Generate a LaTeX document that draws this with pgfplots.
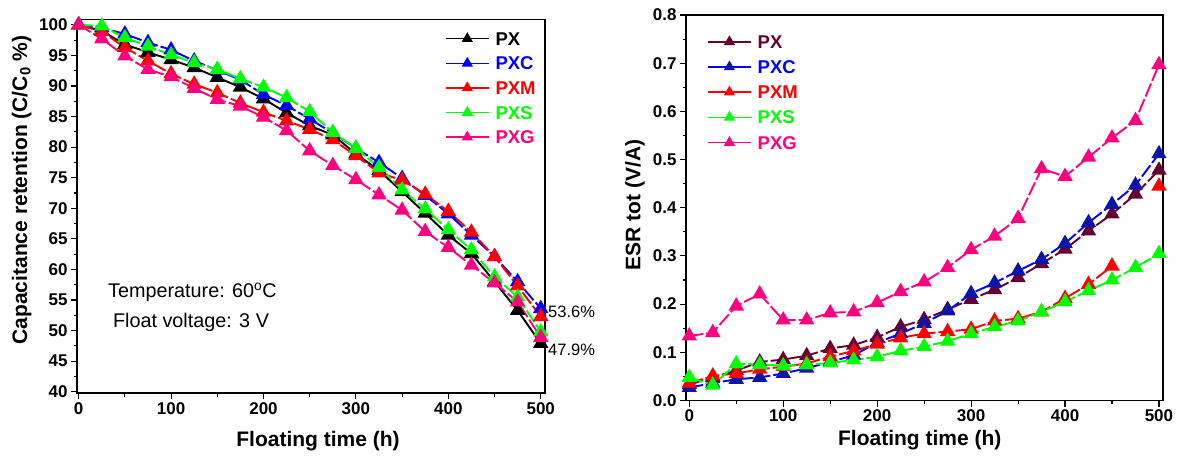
\documentclass[border=0pt]{standalone}
\usepackage{pgfplots}
\pgfplotsset{compat=1.18}
\usepackage{fontspec}
\setmainfont{Liberation Sans}
\definecolor{cPX}{RGB}{0,0,0}
\definecolor{cPXC}{RGB}{0,0,255}
\definecolor{cPXM}{RGB}{255,0,0}
\definecolor{cPXS}{RGB}{0,255,0}
\definecolor{cPXG}{RGB}{255,0,128}
\definecolor{cPXr}{RGB}{102,0,51}
\definecolor{cPXCm}{RGB}{10,20,170}

\pgfplotstableread{
x PX PXC PXM PXS PXG
0 100 100 100 100 100
25 99.0 99.5 98.9 99.8 97.7
50 96.8 98.5 96.3 97.9 94.9
75 95.5 97.1 94.1 96.5 92.7
100 94.3 95.9 92.0 95.1 91.5
125 93.0 94.1 90.3 93.8 89.6
150 91.4 92.6 88.9 92.7 87.8
175 89.8 91.0 87.2 91.2 86.7
200 87.9 88.6 85.7 89.8 84.9
225 85.6 86.8 84.3 88.1 82.7
250 83.5 84.6 82.9 85.8 79.4
275 82.0 82.3 81.2 82.4 77.0
300 78.9 79.8 78.6 79.8 74.7
325 76.2 77.5 75.8 76.7 72.2
350 72.7 74.9 74.6 73.0 69.7
375 69.2 72.1 72.3 69.9 66.2
400 65.6 69.1 69.5 66.5 63.6
425 62.6 65.6 66.1 63.2 60.7
450 58.0 62.1 62.1 58.8 57.8
475 53.3 58.0 57.3 55.5 54.7
500 47.9 53.6 52.3 49.8 48.9
}\capdata

\pgfplotstableread{
x PX PXC PXM PXS PXG
0 0.033 0.027 0.036 0.048 0.134
25 0.048 0.036 0.051 0.032 0.141
50 0.062 0.044 0.056 0.076 0.196
75 0.080 0.048 0.065 0.075 0.221
100 0.085 0.056 0.070 0.072 0.167
125 0.093 0.067 0.077 0.074 0.167
150 0.108 0.080 0.091 0.078 0.182
175 0.115 0.094 0.103 0.084 0.184
200 0.131 0.120 0.117 0.091 0.203
225 0.153 0.139 0.130 0.103 0.226
250 0.168 0.160 0.139 0.112 0.246
275 0.189 0.186 0.143 0.123 0.276
300 0.210 0.222 0.148 0.139 0.313
325 0.230 0.244 0.165 0.153 0.341
350 0.255 0.269 0.170 0.165 0.378
375 0.284 0.293 0.184 0.184 0.481
400 0.314 0.326 0.212 0.205 0.465
425 0.352 0.369 0.241 0.228 0.505
450 0.387 0.407 0.279 0.250 0.545
475 0.428 0.447 nan 0.276 0.581
500 0.478 0.512 0.445 0.305 0.697
}\esrdata

\pgfplotsset{
  myaxis/.style={
    scale only axis,
    axis line style={line width=1.3pt},
    tick style={line width=1.1pt, black},
    tick align=outside,
    xtick pos=bottom, ytick pos=left,
    major tick length=6pt, minor tick length=3.5pt,
    tick label style={font=\fontsize{17}{17}\selectfont\bfseries},
    label style={font=\fontsize{21}{21}\selectfont\bfseries},
    /pgf/number format/assume math mode=true,
    xtick={0,100,...,500},
    minor x tick num=1,
    minor y tick num=1,
    legend cell align=left,
    legend style={draw=none, fill=none, inner sep=0pt, column sep=6pt,
      font=\fontsize{18.5}{18.5}\selectfont\bfseries,
      nodes={inner sep=0pt, text height=13pt, text depth=0pt}},
    legend image code/.code={\draw[mark repeat=2,mark phase=2,#1,solid,line width=1.5pt,mark size=5pt] plot coordinates {(0pt,0pt)(21.5pt,0pt)(43pt,0pt)};},
    unbounded coords=jump,
  },
  ser/.style={color=#1, line width=1.9pt, mark=triangle*, mark size=7pt, mark options={solid, fill=#1}, dash pattern=on 14pt off 3pt},
}

\begin{document}
\begin{tikzpicture}
\path[use as bounding box] (0pt,0pt) rectangle (1179pt,-456pt);

\begin{axis}[myaxis,
  at={(77pt,-393pt)}, anchor=south west,
  width=468pt, height=373.7pt,
  xmin=-1.8, xmax=504.6, ymin=39.8, ymax=100.9,
  ytick={40,45,...,100},
  xlabel={Floating time (h)},
  ylabel={Capacitance retention (C/C\textsubscript{0} \%)},
  xlabel style={at={(axis description cs:0.515,-0.128)}, anchor=center},
  ylabel style={at={(axis description cs:-0.118,0.543)}, anchor=center},
  legend style={at={(axis description cs:0.786,0.966)}, anchor=north west, row sep=11.6pt},
]
\addplot[ser=cPX, solid] table[x=x,y=PX] {\capdata};
\addlegendentry{\textcolor{cPX}{PX}}
\addplot[ser=cPXC] table[x=x,y=PXC] {\capdata};
\addlegendentry{\textcolor{cPXC}{PXC}}
\addplot[ser=cPXM] table[x=x,y=PXM] {\capdata};
\addlegendentry{\textcolor{cPXM}{PXM}}
\addplot[ser=cPXS] table[x=x,y=PXS] {\capdata};
\addlegendentry{\textcolor{cPXS}{PXS}}
\addplot[ser=cPXG] table[x=x,y=PXG] {\capdata};
\addlegendentry{\textcolor{cPXG}{PXG}}
\node[anchor=west, inner sep=0pt, font=\fontsize{19.8}{19.8}\selectfont] at (axis cs:31.7,56.3) {Temperature: 60\textsuperscript{o}C};
\node[anchor=west, inner sep=0pt, font=\fontsize{19.8}{19.8}\selectfont] at (axis cs:37,51.4) {Float voltage: 3 V};
\end{axis}
\node[anchor=west, inner sep=0pt, font=\fontsize{16.5}{16.5}\selectfont] at (548pt,-312pt) {53.6\%};
\node[anchor=west, inner sep=0pt, font=\fontsize{16.5}{16.5}\selectfont] at (548pt,-350pt) {47.9\%};

\begin{axis}[myaxis,
  at={(686pt,-400.5pt)}, anchor=south west,
  width=477pt, height=385.5pt,
  xmin=-3.5, xmax=504.3, ymin=0, ymax=0.8,
  ytick={0,0.1,...,0.8},
  yticklabel style={/pgf/number format/.cd, fixed, fixed zerofill, precision=1},
  xlabel={Floating time (h)},
  ylabel={ESR tot (V/A)},
  xlabel style={at={(axis description cs:0.49,-0.103)}, anchor=center},
  ylabel style={at={(axis description cs:-0.107,0.507)}, anchor=center},
  legend style={at={(axis description cs:0.044,0.948)}, anchor=north west, row sep=12.2pt},
]
\addplot[ser=cPXr] table[x=x,y=PX] {\esrdata};
\addlegendentry{\textcolor{cPXr}{PX}}
\addplot[ser=cPXC, mark options={solid, fill=cPXCm, draw=cPXCm}] table[x=x,y=PXC] {\esrdata};
\addlegendentry{\textcolor{cPXC}{PXC}}
\addplot[ser=cPXM] table[x=x,y=PXM] {\esrdata};
\addlegendentry{\textcolor{cPXM}{PXM}}
\addplot[ser=cPXS] table[x=x,y=PXS] {\esrdata};
\addlegendentry{\textcolor{cPXS}{PXS}}
\addplot[ser=cPXG] table[x=x,y=PXG] {\esrdata};
\addlegendentry{\textcolor{cPXG}{PXG}}
\end{axis}
\end{tikzpicture}
\end{document}
